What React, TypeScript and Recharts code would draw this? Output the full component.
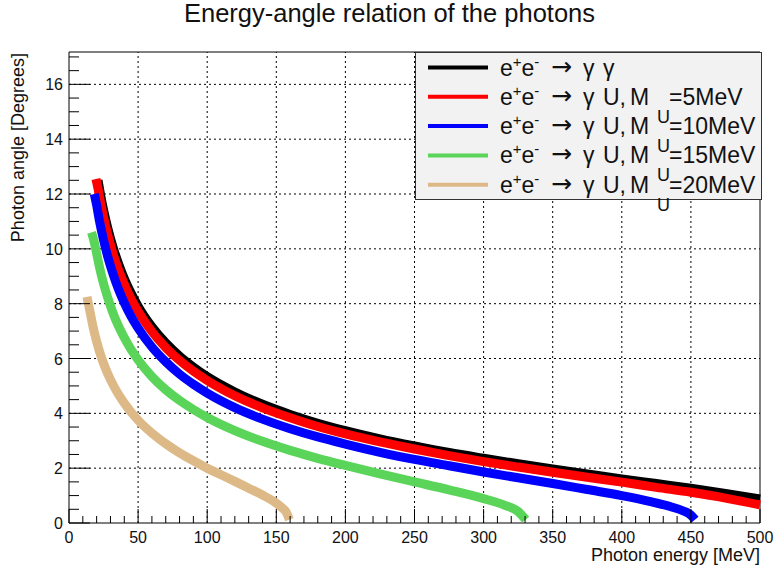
import React from 'react';
import { LineChart, Line, XAxis, YAxis, ReferenceLine, ReferenceArea, Legend } from 'recharts';

const FONT = '"Liberation Sans", Arial, Helvetica, sans-serif';

// photon energy [MeV] / photon angle [deg], one pair of arrays per process
const energyGG = [21, 23, 25, 28, 32, 36, 40, 45, 50, 60, 70, 80, 90, 100, 120, 140, 160, 180, 200, 225, 250, 275, 300, 325, 350, 375, 400, 425, 450, 475, 500];
const angleGG = [12.5, 11.93, 11.42, 10.77, 10.04, 9.44, 8.92, 8.38, 7.91, 7.16, 6.57, 6.09, 5.69, 5.34, 4.78, 4.33, 3.96, 3.64, 3.37, 3.07, 2.81, 2.57, 2.36, 2.16, 1.97, 1.79, 1.61, 1.44, 1.27, 1.08, 0.88];

const energyU5 = [19.5, 21, 23, 25, 28, 32, 36, 40, 45, 50, 60, 70, 80, 90, 100, 120, 140, 160, 180, 200, 225, 250, 275, 300, 325, 350, 375, 400, 425, 450, 475, 500];
const angleU5 = [12.55, 12.2, 11.65, 11.16, 10.52, 9.8, 9.21, 8.71, 8.17, 7.72, 6.98, 6.4, 5.93, 5.54, 5.2, 4.64, 4.2, 3.84, 3.52, 3.25, 2.96, 2.7, 2.46, 2.24, 2.04, 1.85, 1.67, 1.49, 1.3, 1.12, 0.91, 0.66];

const energyU10 = [18.3, 20, 22, 25, 28, 32, 36, 40, 45, 50, 60, 70, 80, 90, 100, 120, 140, 160, 180, 200, 225, 250, 275, 300, 325, 350, 375, 400, 420, 435, 445, 450, 453];
const angleU10 = [12.0, 11.59, 11.03, 10.32, 9.72, 9.06, 8.5, 8.03, 7.53, 7.11, 6.42, 5.88, 5.43, 5.06, 4.74, 4.21, 3.79, 3.44, 3.14, 2.88, 2.58, 2.32, 2.09, 1.86, 1.65, 1.44, 1.22, 1.0, 0.79, 0.6, 0.43, 0.29, 0.12];

const energyU15 = [16.3, 18, 20, 22, 25, 28, 32, 36, 40, 45, 50, 60, 70, 80, 90, 100, 120, 140, 160, 180, 200, 225, 250, 275, 300, 315, 325, 330.5];
const angleU15 = [10.6, 10.3, 9.83, 9.35, 8.73, 8.22, 7.64, 7.16, 6.76, 6.32, 5.95, 5.34, 4.86, 4.47, 4.14, 3.85, 3.37, 2.98, 2.65, 2.36, 2.1, 1.79, 1.5, 1.21, 0.89, 0.65, 0.42, 0.12];

const energyU20 = [13, 15, 17.5, 20, 23, 26, 30, 35, 40, 45, 50, 60, 70, 80, 90, 100, 110, 120, 130, 140, 148, 154, 157, 159.5];
const angleU20 = [8.25, 7.76, 7.13, 6.62, 6.11, 5.69, 5.23, 4.76, 4.37, 4.04, 3.75, 3.28, 2.89, 2.56, 2.27, 2.0, 1.76, 1.52, 1.27, 1.02, 0.79, 0.56, 0.41, 0.12];

const uMasses = ['5', '10', '15', '20'];

const xTicks = Array.from({ length: 51 }, (_, i) => i * 10);
const yTicks = Array.from({ length: 35 }, (_, i) => i * 0.5);
const gridX = [50, 100, 150, 200, 250, 300, 350, 400, 450];
const gridY = [2, 4, 6, 8, 10, 12, 14, 16];

const toPoints = (energy: number[], angle: number[]) =>
  energy.map((e, i) => ({ energy: e, angle: angle[i] }));

const series = [
  { key: 'gg', data: toPoints(energyGG, angleGG), color: '#000000', mass: null as string | null },
  { key: 'u5', data: toPoints(energyU5, angleU5), color: '#ff0000', mass: uMasses[0] },
  { key: 'u10', data: toPoints(energyU10, angleU10), color: '#0000ff', mass: uMasses[1] },
  { key: 'u15', data: toPoints(energyU15, angleU15), color: '#5ad55a', mass: uMasses[2] },
  { key: 'u20', data: toPoints(energyU20, angleU20), color: '#ddb987', mass: uMasses[3] },
];

const XTick = ({ x, y, payload }: any) => {
  const major = payload.value % 50 === 0;
  return (
    <g>
      <line x1={x} x2={x} y1={y} y2={y - (major ? 14 : 7)} stroke="#000" />
      {major && (
        <text x={x} y={y + 20} textAnchor="middle" fontSize={16} fontFamily={FONT} fill="#111">
          {payload.value}
        </text>
      )}
    </g>
  );
};

const YTick = ({ x, y, payload }: any) => {
  const major = payload.value % 2 === 0;
  return (
    <g>
      <line x1={x} x2={x + (major ? 21 : 10)} y1={y} y2={y} stroke="#000" />
      {major && (
        <text x={x - 6} y={y + 6} textAnchor="end" fontSize={16} fontFamily={FONT} fill="#111">
          {payload.value}
        </text>
      )}
    </g>
  );
};

const XTitle = () => (
  <text x={760} y={561} textAnchor="end" fontSize={18} fontFamily={FONT} fill="#111">
    Photon energy [MeV]
  </text>
);

const YTitle = () => (
  <text x={24} y={53} transform="rotate(-90 24 53)" textAnchor="end" fontSize={18} fontFamily={FONT} fill="#111">
    Photon angle [Degrees]
  </text>
);

// legend text: e+e- -> gamma gamma / e+e- -> gamma U, M_U = m MeV
const LegendBox = () => {
  const fs = 23;
  return (
    <svg width={347} height={148} style={{ display: 'block', overflow: 'visible' }}>
      <rect x={0.5} y={0.5} width={346} height={147} fill="#f2f2f2" stroke="#333" />
      {series.map((s, i) => {
        const cy = 15.5 + i * 29.3;
        const base = cy + 8;
        return (
          <g key={s.key} fontFamily={FONT} fill="#111">
            <line x1={13} x2={73} y1={cy} y2={cy} stroke={s.color} strokeWidth={4} />
            <text x={85} y={base} fontSize={fs}>
              e<tspan dy={-9} fontSize={15}>+</tspan>
              <tspan dy={9}>e</tspan>
              <tspan dy={-9} fontSize={15}>-</tspan>
            </text>
            <text x={136} y={base - 1} fontSize={25} fontFamily='"DejaVu Sans", sans-serif'>→</text>
            <text x={168} y={base} fontSize={fs}>γ</text>
            {s.mass === null ? (
              <text x={188} y={base} fontSize={fs}>γ</text>
            ) : (
              <>
                <text x={188} y={base} fontSize={fs}>U,</text>
                <text x={215} y={base} fontSize={fs}>M</text>
                <text x={242} y={base + 18} fontSize={18}>U</text>
                <text x={254} y={base} fontSize={fs}>={s.mass}MeV</text>
              </>
            )}
          </g>
        );
      })}
    </svg>
  );
};

export default function App() {
  return (
    <div style={{ position: 'absolute', left: 0, top: 0, width: 779, height: 573, background: '#fff' }}>
      <div
        style={{
          position: 'absolute', left: 0, top: 0, width: 779, textAlign: 'center',
          fontFamily: FONT, fontSize: 25.5, lineHeight: '27px', color: '#111',
        }}
      >
        Energy-angle relation of the photons
      </div>
      <LineChart width={779} height={573} margin={{ top: 52, right: 19, bottom: 10, left: 29 }}>
        <XAxis
          type="number"
          dataKey="energy"
          domain={[0, 500]}
          ticks={xTicks}
          interval={0}
          tick={<XTick />}
          tickLine={false}
          axisLine={false}
          tickSize={0}
          tickMargin={0}
          height={40}
          label={<XTitle />}
        />
        <YAxis
          type="number"
          dataKey="angle"
          domain={[0, 17.18]}
          ticks={yTicks}
          interval={0}
          tick={<YTick />}
          tickLine={false}
          axisLine={false}
          tickSize={0}
          tickMargin={0}
          width={40}
          label={<YTitle />}
        />
        {gridX.map((v) => (
          <ReferenceLine key={'gx' + v} x={v} stroke="#000" strokeDasharray="2 3" />
        ))}
        {gridY.map((v) => (
          <ReferenceLine key={'gy' + v} y={v} stroke="#000" strokeDasharray="2 3" />
        ))}
        <ReferenceArea x1={0} x2={500} y1={0} y2={17.18} fill="none" stroke="#000" strokeOpacity={1} />
        {series.map((s) => (
          <Line
            key={s.key}
            data={s.data}
            dataKey="angle"
            type="monotone"
            stroke={s.color}
            strokeWidth={9}
            dot={false}
            activeDot={false}
            isAnimationActive={false}
          />
        ))}
        <Legend
          layout="horizontal"
          verticalAlign="middle"
          align="center"
          content={() => <LegendBox />}
          wrapperStyle={{ left: 415, top: 52, width: 347, height: 148 }}
        />
      </LineChart>
    </div>
  );
}
